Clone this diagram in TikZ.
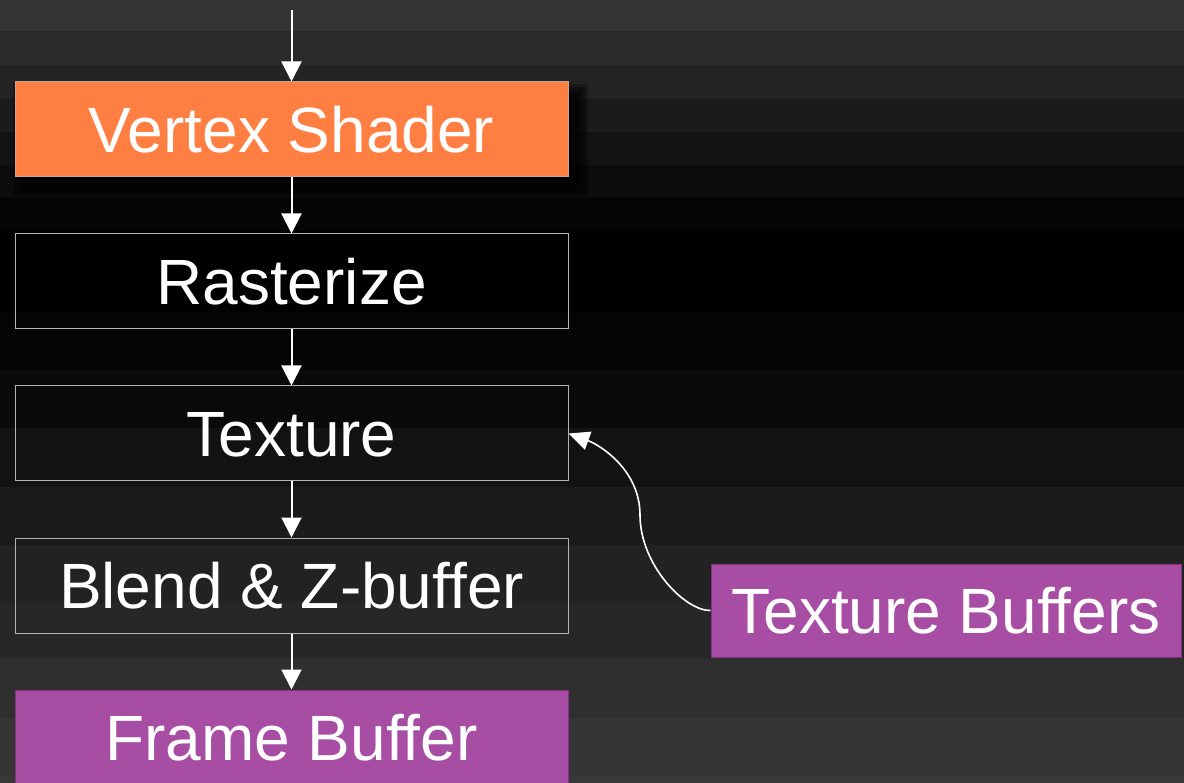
\documentclass[tikz,border=0pt]{standalone}
\usepackage{fontspec}
\setmainfont[Ligatures={NoCommon}]{Liberation Sans}
\usetikzlibrary{arrows.meta}

\definecolor{shaderorange}{RGB}{255,127,66}
\definecolor{bufferpurple}{RGB}{168,77,164}
\definecolor{bufferedge}{RGB}{128,50,125}
\definecolor{boxline}{RGB}{180,180,180}

\pgfdeclarelayer{back}
\pgfdeclarelayer{links}
\pgfsetlayers{back,links,main}

\tikzset{
  stage/.style={draw=boxline, line width=1pt, minimum width=553pt,
    minimum height=95pt, inner sep=0pt, text=white,
    font=\fontsize{64}{72}\selectfont, text height=46pt, text depth=0pt},
  shaderbox/.style={stage, fill=shaderorange, draw=boxline!70!shaderorange},
  bufferbox/.style={stage, fill=bufferpurple, draw=bufferedge},
  flow/.style={draw=white, line width=2pt,
    -{Triangle[width=20pt,length=20pt]}},
  fetch/.style={draw=white, line width=1.6pt,
    -{Triangle[width=19pt,length=21pt]}}
}

\begin{document}
\begin{tikzpicture}[x=1pt,y=-1pt]
\useasboundingbox (0,0) rectangle (1184,783);

% banded dark background
\begin{pgfonlayer}{back}
\foreach \ya/\yb/\g in {0/31/51, 31/65/42, 65/99/35, 99/132/27, 132/165/19,
    165/197/12, 197/230/5, 230/313/1, 313/370/5, 370/428/10, 428/487/18,
    487/545/27, 545/603/34, 603/658/39, 658/718/47, 718/776/53, 776/784/57}{
  \definecolor{bandc}{RGB}{\g,\g,\g}
  \fill[bandc] (-1,\ya) rectangle (1185,\yb+0.5);
}
% soft shadow under the vertex shader box
\foreach \d in {0,3,6,9}{
  \fill[black, opacity=0.3] (13+\d,84+\d) rectangle (588-\d,196-\d);
}
\end{pgfonlayer}

% pipeline stages
\node[shaderbox] (vs)  at (291.5,129.5) {Vertex Shader};
\node[stage]     (ras) at (291.5,281.5) {Rasterize};
\node[stage]     (tex) at (291.5,433.5) {Texture};
\node[stage]     (zb)  at (291.5,585.5) {Blend \& Z-buffer};
\node[bufferbox] (fb)  at (291.5,737.5) {Frame Buffer};
\node[bufferbox, minimum width=470pt, minimum height=93pt]
                 (tb)  at (946,610.5) {Texture Buffers};

\coordinate (in) at (291.5,10);

\begin{pgfonlayer}{links}
\draw[flow] (in) -- (vs.north);
\draw[flow] (vs.south) -- (ras.north);
\draw[flow] (ras.south) -- (tex.north);
\draw[flow] (tex.south) -- (zb.north);
\draw[flow] (zb.south) -- (fb.north);
\draw[fetch] (tb.west) .. controls (685,611) and (640,565) .. (640,515)
  .. controls (640,470) and (600,445) .. (tex.east);
\end{pgfonlayer}
\end{tikzpicture}
\end{document}
